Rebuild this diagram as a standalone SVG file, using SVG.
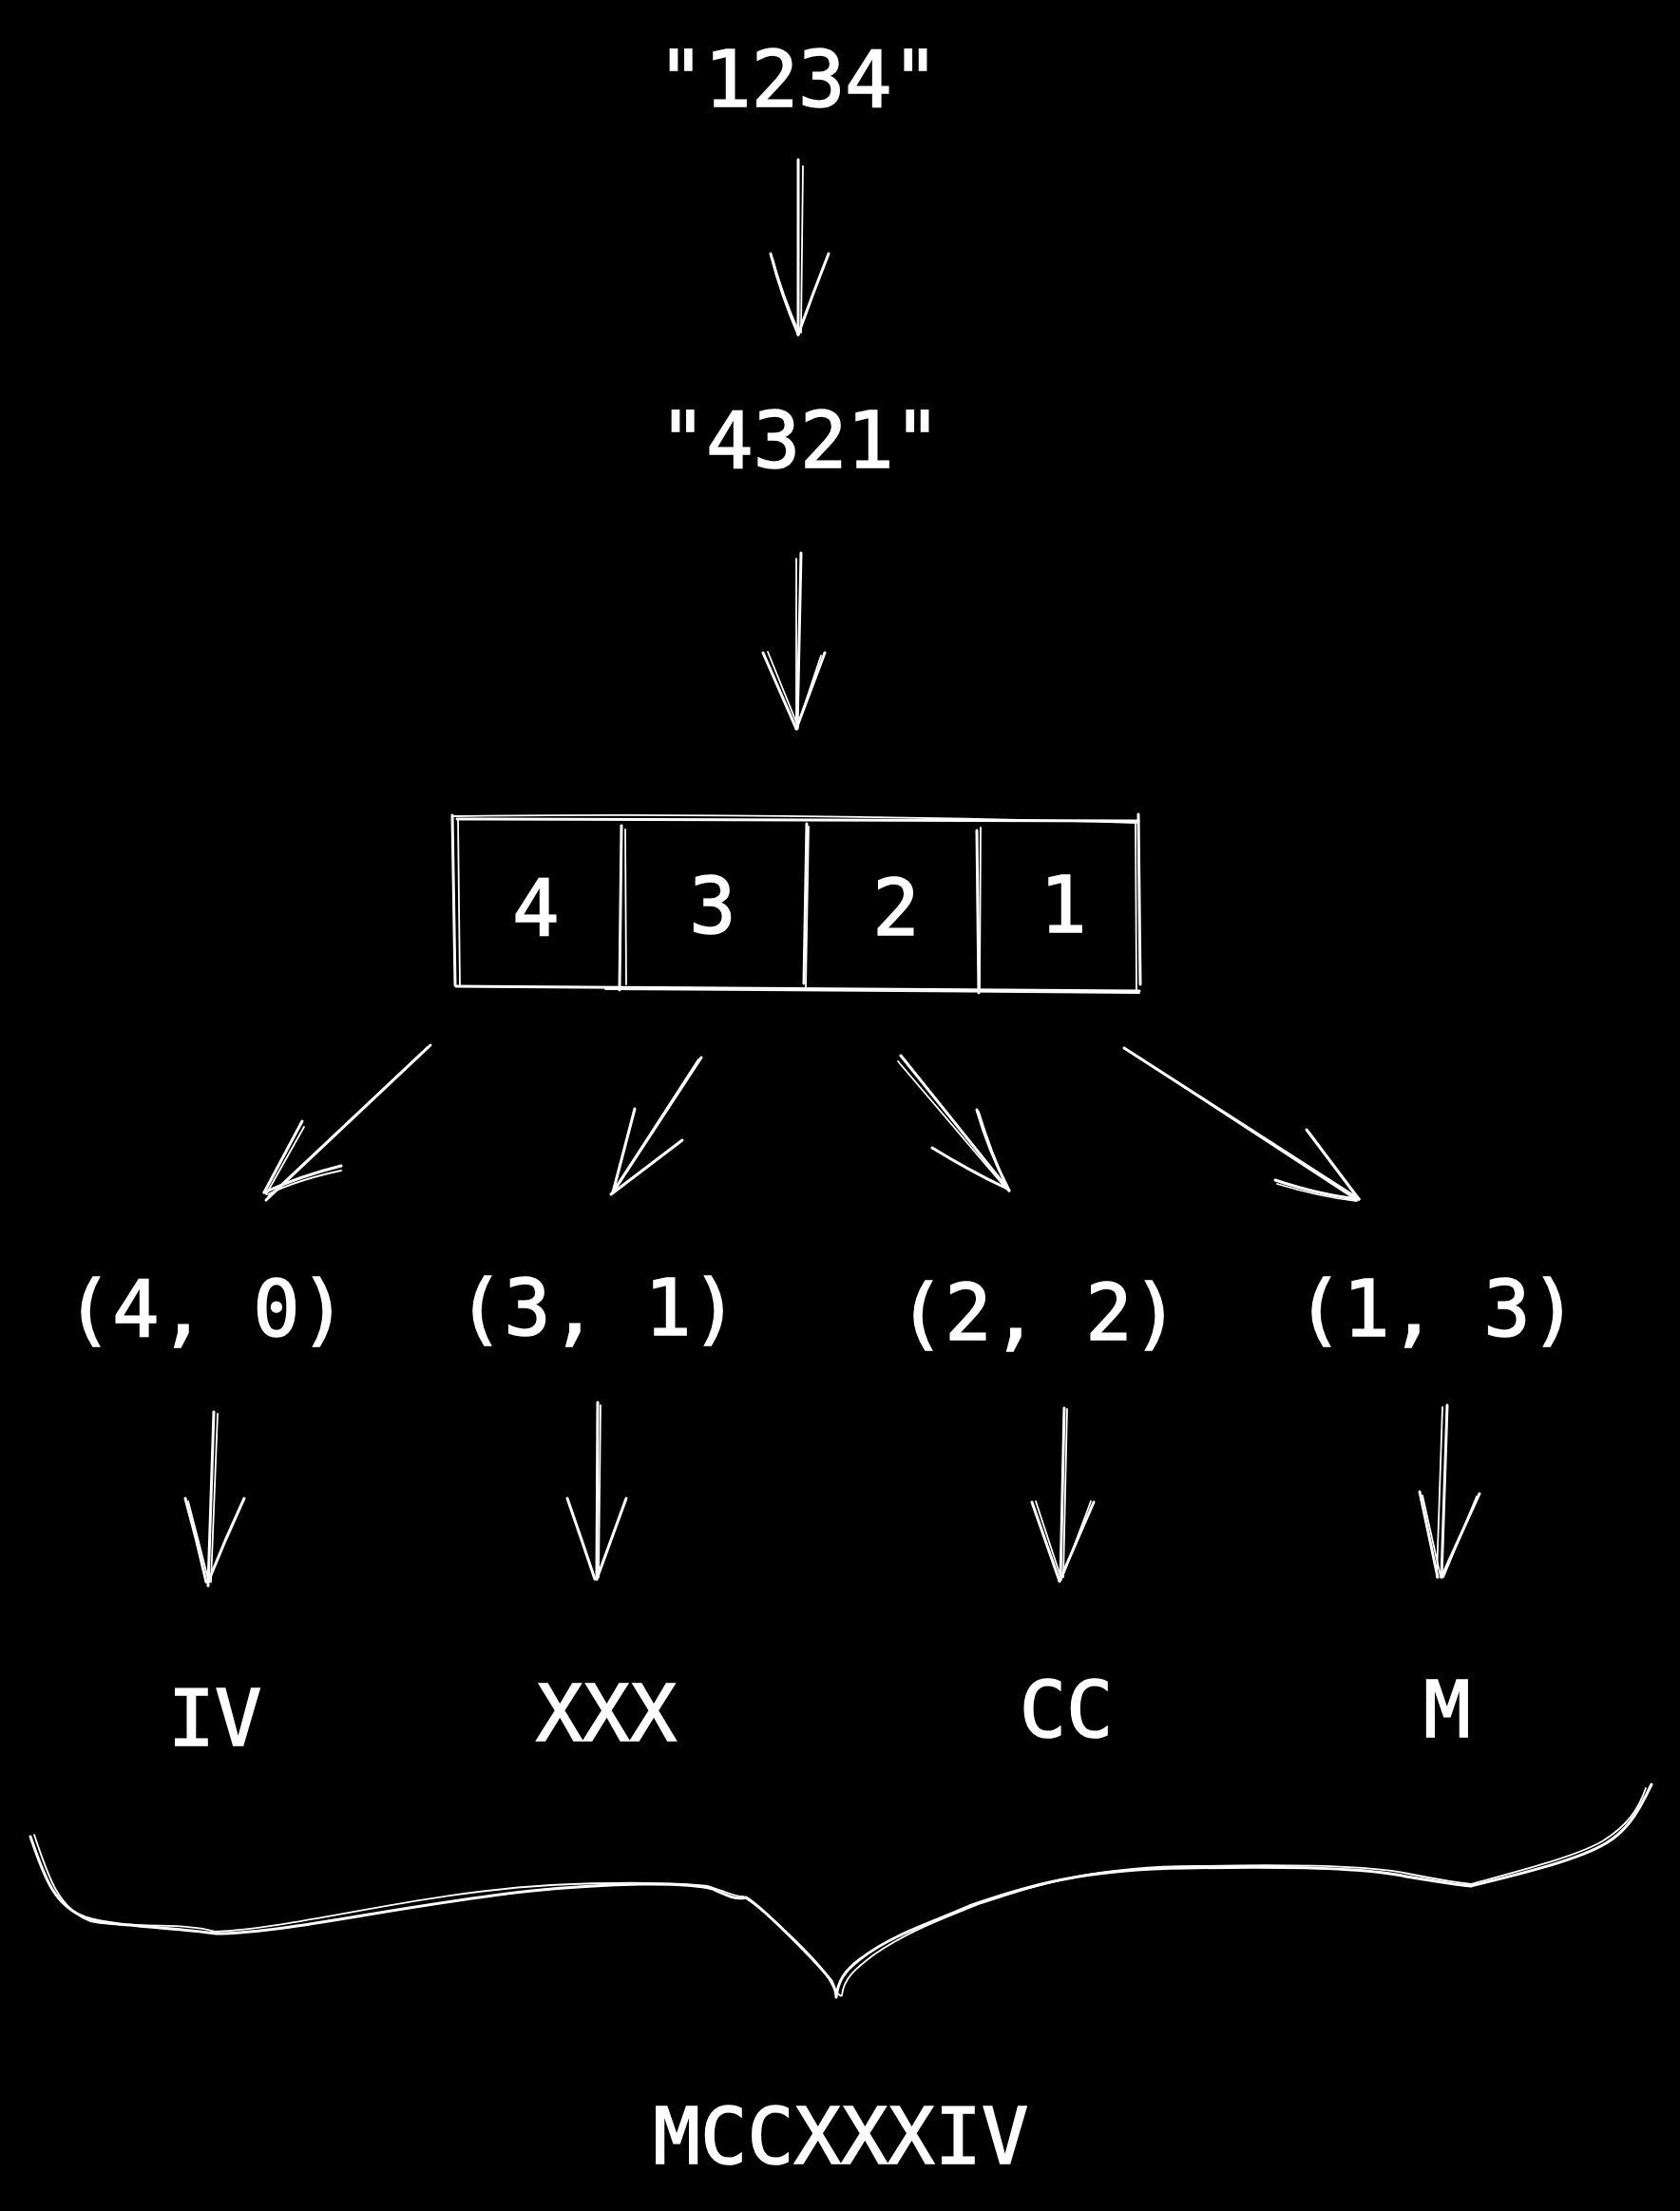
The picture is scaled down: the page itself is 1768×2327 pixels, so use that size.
<svg xmlns="http://www.w3.org/2000/svg" width="1768" height="2327" viewBox="0 0 1768 2327">
<style>
.t{font-family:"DejaVu Sans Mono","Liberation Mono",monospace;font-size:82px;fill:#fff;stroke:#fff;stroke-width:1.6;text-anchor:middle}
.s{fill:none;stroke:#fff;stroke-width:3;stroke-linecap:round;stroke-linejoin:round}
.f{fill:none;stroke:#fff;stroke-width:1.8;stroke-linecap:round;stroke-linejoin:round}
</style>
<rect x="0" y="0" width="1768" height="2327" fill="#000"/>

<g id="node-input"><text class="t" x="840" y="112">"1234"</text></g>
<g id="node-reversed"><text class="t" x="842" y="492">"4321"</text></g>

<g id="node-array">
  <path class="s" d="M481 862 L1198 864"/>
  <path class="f" d="M478 859 Q800 855 1196 866"/>
  <path class="s" d="M476 858 L479 1037"/>
  <path class="f" d="M482 862 L484 1038"/>
  <path class="s" d="M480 1038 L1199 1043"/>
  <path class="f" d="M637 1041 L1199 1045"/>
  <path class="s" d="M1198 857 L1200 1036"/>
  <path class="f" d="M1195 865 L1196 1042"/>
  <path class="s" d="M654 869 L652 1042"/>
  <path class="f" d="M658 873 L659 1036"/>
  <path class="s" d="M849 867 L846 1035"/>
  <path class="f" d="M851 870 L848 1040"/>
  <path class="s" d="M1028 874 L1030 1045"/>
  <path class="f" d="M1032 871 L1031 1040"/>
  <text class="t" x="564" y="984">4</text>
  <text class="t" x="750" y="982">3</text>
  <text class="t" x="943" y="984">2</text>
  <text class="t" x="1119" y="981">1</text>
</g>

<g id="node-pair-40"><text class="t" x="217" y="1406">(4, 0)</text></g>
<g id="node-pair-31"><text class="t" x="629" y="1405">(3, 1)</text></g>
<g id="node-pair-22"><text class="t" x="1093" y="1410">(2, 2)</text></g>
<g id="node-pair-13"><text class="t" x="1512" y="1406">(1, 3)</text></g>

<g id="node-iv"><text class="t" x="226" y="1837">IV</text></g>
<g id="node-xxx"><text class="t" x="638" y="1832">XXX</text></g>
<g id="node-cc"><text class="t" x="1122" y="1828">CC</text></g>
<g id="node-m"><text class="t" x="1523" y="1828">M</text></g>

<g id="node-result"><text class="t" x="885" y="2277">MCCXXXIV</text></g>

<g id="connectors">
  <!-- 1234 -> 4321 -->
  <path class="s" d="M840 168 L840 352"/>
  <path class="f" d="M845 175 L843 350"/>
  <path class="s" d="M811 267 Q822 310 840 352"/>
  <path class="f" d="M813 272 Q824 312 841 350"/>
  <path class="s" d="M872 267 Q855 310 840 352"/>
  <!-- 4321 -> array -->
  <path class="s" d="M843 582 L839 767"/>
  <path class="f" d="M838 588 L838 760"/>
  <path class="s" d="M803 687 L838 767"/>
  <path class="f" d="M808 686 L840 765"/>
  <path class="s" d="M868 687 L838 767"/>
  <path class="f" d="M864 690 L840 762"/>
  <!-- array -> pairs -->
  <path class="s" d="M453 1100 L280 1263"/>
  <path class="f" d="M450 1102 L282 1260"/>
  <path class="s" d="M318 1180 L278 1255"/>
  <path class="f" d="M320 1186 L280 1257"/>
  <path class="s" d="M359 1227 Q315 1238 278 1255"/>
  <path class="f" d="M359 1232 Q312 1242 282 1257"/>

  <path class="s" d="M738 1113 L645 1255"/>
  <path class="f" d="M735 1115 L643 1257"/>
  <path class="s" d="M668 1167 L645 1255"/>
  <path class="s" d="M718 1200 L643 1257"/>

  <path class="s" d="M948 1111 L1062 1253"/>
  <path class="f" d="M945 1117 L1058 1250"/>
  <path class="s" d="M1028 1168 Q1040 1210 1062 1253"/>
  <path class="f" d="M1030 1170 Q1043 1212 1060 1251"/>
  <path class="s" d="M981 1208 Q1020 1232 1060 1251"/>

  <path class="s" d="M1183 1103 L1430 1262"/>
  <path class="f" d="M1186 1105 L1426 1262"/>
  <path class="s" d="M1375 1189 L1430 1262"/>
  <path class="f" d="M1378 1192 L1428 1260"/>
  <path class="s" d="M1342 1242 Q1390 1258 1430 1262"/>
  <path class="f" d="M1344 1246 Q1390 1260 1428 1264"/>
  <!-- pairs -> numerals -->
  <path class="s" d="M225 1486 L219 1669"/>
  <path class="f" d="M229 1488 L222 1665"/>
  <path class="s" d="M195 1577 Q207 1620 217 1665"/>
  <path class="f" d="M198 1580 Q209 1622 219 1662"/>
  <path class="s" d="M257 1577 Q237 1620 219 1665"/>

  <path class="s" d="M629 1476 L628 1662"/>
  <path class="f" d="M632 1479 L630 1660"/>
  <path class="s" d="M597 1577 Q612 1620 626 1662"/>
  <path class="s" d="M659 1577 L628 1662"/>

  <path class="s" d="M1120 1482 L1116 1663"/>
  <path class="f" d="M1123 1483 L1119 1660"/>
  <path class="s" d="M1086 1581 L1115 1664"/>
  <path class="f" d="M1090 1580 L1117 1662"/>
  <path class="s" d="M1151 1581 L1115 1664"/>
  <path class="f" d="M1148 1580 L1118 1660"/>

  <path class="s" d="M1523 1479 L1517 1660"/>
  <path class="f" d="M1518 1481 L1512 1660"/>
  <path class="s" d="M1494 1570 L1513 1660"/>
  <path class="f" d="M1497 1574 L1516 1659"/>
  <path class="s" d="M1557 1572 L1517 1660"/>
  <path class="f" d="M1554 1575 L1519 1660"/>
  <!-- brace -->
  <path class="s" d="M32 1933 C45 1970 55 2005 90 2018 C120 2028 180 2028 227 2035 C300 2035 420 2005 560 1990 C640 1982 720 1980 750 1988 C765 1995 775 2000 785 1997 C800 2005 860 2065 875 2085 C880 2095 880 2102 880 2102 C882 2085 888 2075 905 2062 C940 2035 985 2022 1020 2006 C1080 1985 1140 1967 1250 1966 C1350 1964 1440 1966 1480 1975 C1510 1980 1530 1983 1548 1985 C1600 1972 1660 1958 1690 1940 C1710 1928 1722 1912 1738 1878"/>
  <path class="f" d="M36 1931 C50 1972 60 2008 95 2022 C130 2030 190 2022 227 2033 C320 2028 440 1992 580 1984 C660 1980 720 1982 745 1985 C762 1990 772 1996 782 1996 C805 2010 858 2060 872 2082 C878 2093 884 2103 886 2100 C888 2082 900 2072 920 2057 C955 2033 990 2020 1030 2004 C1090 1984 1150 1964 1260 1964 C1360 1962 1445 1964 1482 1972 C1512 1978 1532 1981 1548 1983 C1602 1968 1658 1954 1686 1938 C1712 1922 1724 1905 1732 1882"/>
</g>
</svg>
